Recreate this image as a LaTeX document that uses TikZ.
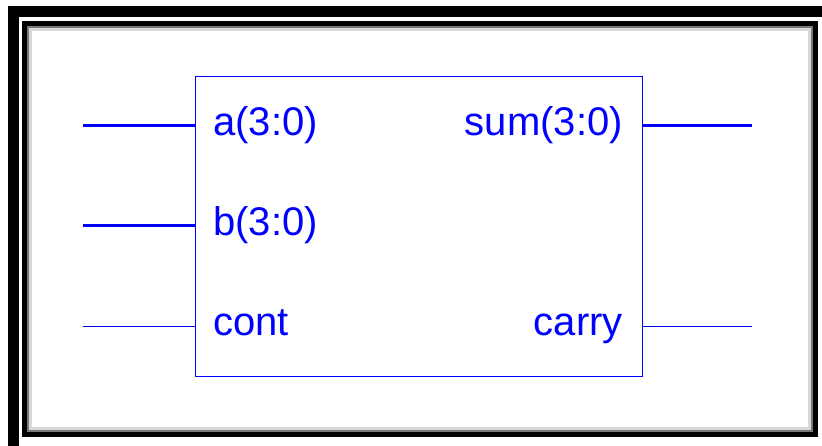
\documentclass[tikz,border=0pt]{standalone}
\usepackage{fontspec}
\setmainfont{Liberation Sans}
\usetikzlibrary{positioning}
\definecolor{wireblue}{RGB}{0,0,255}
\definecolor{framegray}{RGB}{120,120,120}

\begin{document}
\begin{tikzpicture}[
    x=1pt, y=-1pt,
    frame/.style={draw=black, line width=11pt},
    innerframe/.style={draw=black, line width=5pt},
    block/.style={rectangle, draw=wireblue, line width=0.9pt, minimum width=447pt, minimum height=300pt, inner sep=0pt},
    port/.style={text=wireblue, font=\fontsize{40}{46}\selectfont, inner sep=0pt},
    bus/.style={draw=wireblue, line width=3pt},
    wire/.style={draw=wireblue, line width=0.9pt}
]

% page frame
\clip (0,0) rectangle (822,446);
\draw[frame] (13.5,11.5) rectangle (828,451.5);
\draw[innerframe] (24.5,23.5) rectangle (815,434.5);
\draw[draw=framegray, line width=2pt] (28,27) rectangle (811.5,431);
\draw[draw=framegray!30, line width=3pt] (30.5,29.5) rectangle (809,428.5);

% adder block
\node[block] (adder) at (418.5,226) {};

\node[port, anchor=base west] (pa) at (213,136) {a(3:0)};
\node[port, anchor=base west] (pb) at (213,236) {b(3:0)};
\node[port, anchor=base west] (pcont) at (213,336) {cont};
\node[port, anchor=base east] (psum) at (623,136) {sum(3:0)};
\node[port, anchor=base east] (pcarry) at (623,336) {carry};

\coordinate (ain) at (83,126);
\coordinate (bin) at (83,226);
\coordinate (contin) at (83,326);
\coordinate (sumout) at (752,126);
\coordinate (carryout) at (752,326);

\draw[bus] (ain) -- (ain -| adder.west);
\draw[bus] (bin) -- (bin -| adder.west);
\draw[wire] (contin) -- (contin -| adder.west);
\draw[bus] (adder.east |- sumout) -- (sumout);
\draw[wire] (adder.east |- carryout) -- (carryout);

\end{tikzpicture}
\end{document}
